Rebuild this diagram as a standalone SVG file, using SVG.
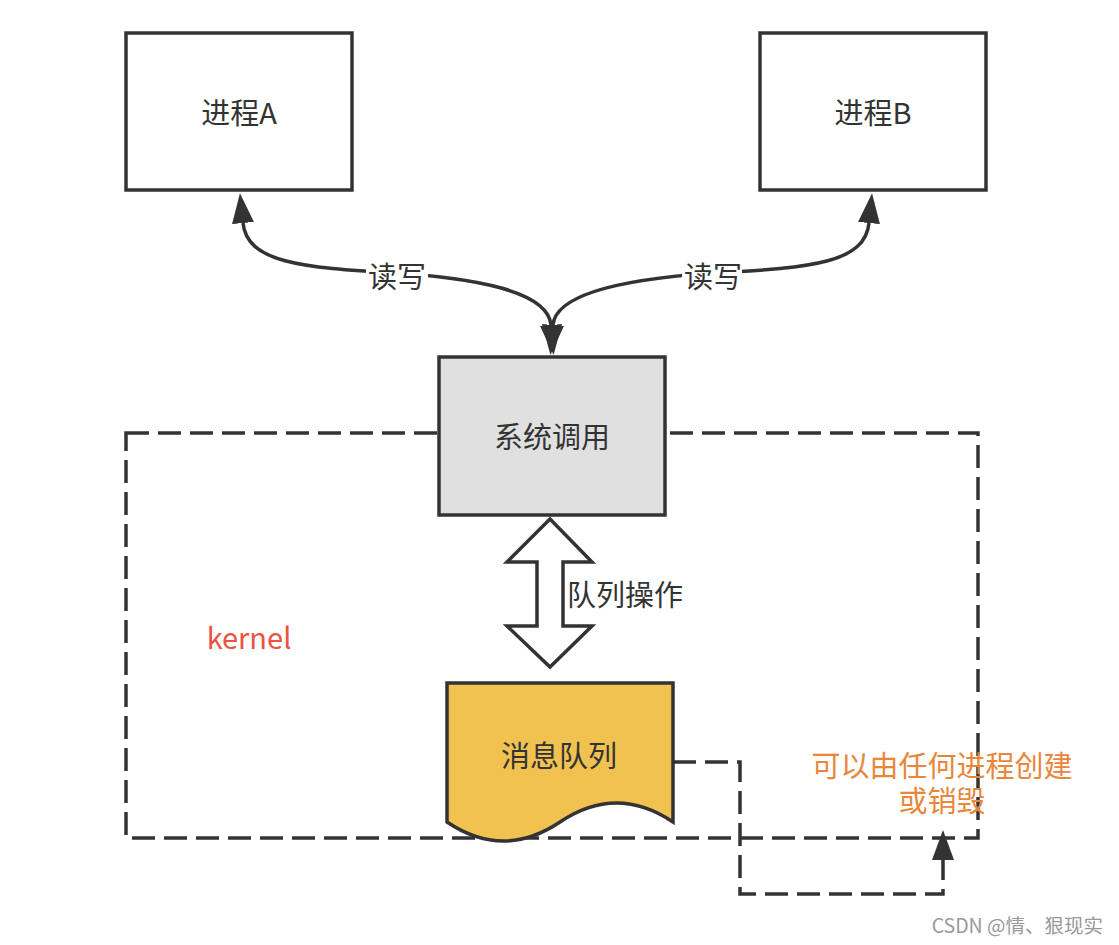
<svg xmlns="http://www.w3.org/2000/svg" width="1119" height="945" viewBox="0 0 1119 945">
<style>
.box{fill:#fff;stroke:#333;stroke-width:3.5}
.lbl{font-family:"Noto Sans CJK SC","Noto Sans",sans-serif;font-size:29px;fill:#333;text-anchor:middle}
.dash{fill:none;stroke:#333;stroke-width:3.5;stroke-dasharray:23 9}
.curve{fill:none;stroke:#333;stroke-width:3.5}
.note{font-family:"Noto Sans CJK SC","Noto Sans",sans-serif;font-size:29px;fill:#E8863A;text-anchor:middle}
</style>
<defs>
<marker id="ah" viewBox="0 0 30 22" refX="0" refY="11" markerWidth="30" markerHeight="22" markerUnits="userSpaceOnUse" orient="auto-start-reverse"><path d="M0,0 L30,11 L0,22 Z" fill="#333"/></marker>
</defs>
<rect width="1119" height="945" fill="#fff"/>
<g id="kernel">
<rect class="dash" x="126" y="433" width="852" height="405"/>
<text x="249" y="649" style="font-family:'Noto Sans CJK SC','Noto Sans',sans-serif;font-size:29px;fill:#E95340;text-anchor:middle">kernel</text>
</g>
<g id="connectors">
<path class="curve" d="M243 223 C247 262,300 268,397 273 C470 278,548 290,551 325" marker-start="url(#ah)" marker-end="url(#ah)"/>
<path class="curve" d="M869 223 C865 262,815 268,713 273 C640 278,556 290,553 325" marker-start="url(#ah)" marker-end="url(#ah)"/>
<rect x="366" y="260" width="62" height="32" fill="#fff"/>
<rect x="682" y="260" width="60" height="32" fill="#fff"/>
<text class="lbl" x="397" y="288">读写</text>
<text class="lbl" x="713" y="288">读写</text>
<polygon points="550,519 592,562 563,562 563,626 592,626 550,667 507,626 537,626 537,562 507,562" fill="#fff" stroke="#333" stroke-width="3.5"/>
<text x="567" y="606" style="font-family:'Noto Sans CJK SC','Noto Sans',sans-serif;font-size:29px;fill:#333">队列操作</text>
<path class="dash" d="M673 762 H740 V894 H943 V860"/>
<polygon points="932,860 943,830 954,860" fill="#333"/>
</g>
<g id="procA">
<rect class="box" x="126" y="33" width="226" height="157"/>
<text class="lbl" x="239" y="124">进程A</text>
</g>
<g id="procB">
<rect class="box" x="760" y="33" width="226" height="157"/>
<text class="lbl" x="873" y="124">进程B</text>
</g>
<g id="syscall">
<rect x="439" y="357" width="226" height="158" fill="#e0e0e0" stroke="#333" stroke-width="3.5"/>
<text class="lbl" x="552" y="448">系统调用</text>
</g>
<g id="msgqueue">
<path d="M447 683 H673 V822 Q616.5 784 560 822 Q503.5 860 447 822 Z" fill="#F1C24F" stroke="#333" stroke-width="3.5"/>
<text class="lbl" x="559" y="767">消息队列</text>
</g>
<g id="note">
<text class="note" x="942" y="777"><tspan x="942" y="777">可以由任何进程创建</tspan><tspan x="942" y="812">或销毁</tspan></text>
</g>
<text x="1103" y="933" style="font-family:'Noto Sans CJK SC','Noto Sans',sans-serif;font-size:19.5px;fill:#999;text-anchor:end">CSDN @情、狠现实</text>
</svg>
